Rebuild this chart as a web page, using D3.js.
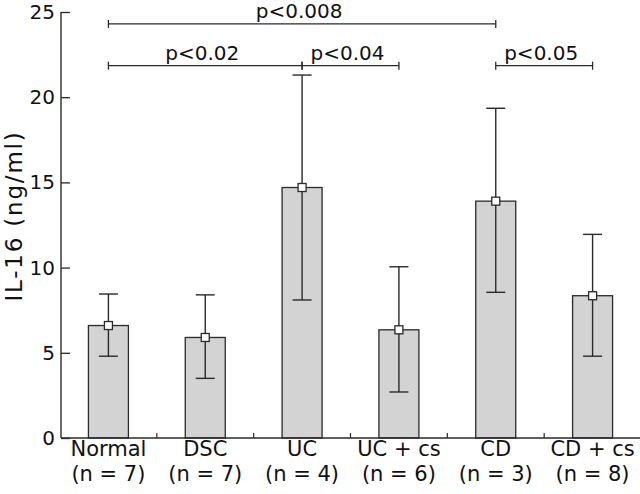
<!DOCTYPE html>
<html>
<head>
<meta charset="utf-8">
<script src="https://cdn.jsdelivr.net/npm/d3@7/dist/d3.min.js"></script>
<style>
  html, body { margin: 0; padding: 0; background: #fff; }
  svg { display: block; font-family: "DejaVu Sans", "Liberation Sans", Arial, sans-serif; }
</style>
</head>
<body>
<svg id="chart" width="640" height="494"></svg>
<script>
// ---- data ----
const categories = ["Normal", "DSC", "UC", "UC + cs", "CD", "CD + cs"];
const groupSizes = ["(n = 7)", "(n = 7)", "(n = 4)", "(n = 6)", "(n = 3)", "(n = 8)"];
const means = [6.6, 5.9, 14.7, 6.35, 13.9, 8.35];
const upper = [8.45, 8.4, 21.3, 10.05, 19.35, 11.95];
const lower = [4.8, 3.5, 8.1, 2.7, 8.55, 4.8];
const yTicks = [0, 5, 10, 15, 20, 25];
const yLabel = "IL-16 (ng/ml)";
const sigFrom = ["Normal", "Normal", "UC", "CD"];
const sigTo = ["CD", "UC", "UC + cs", "CD + cs"];
const sigLevel = [24.3, 21.85, 21.85, 21.85];
const sigLabel = ["p<0.008", "p<0.02", "p<0.04", "p<0.05"];

// ---- layout ----
const svg = d3.select("#chart");
const ink = "#2a2a2a";
const x = d3.scaleBand().domain(categories).range([60, 641])
  .paddingInner(0.587).paddingOuter(0.2935);
const y = d3.scaleLinear().domain([0, 25]).range([438, 12]);
const cx = c => x(c) + x.bandwidth() / 2;
const step = x.step();

const rows = categories.map((c, i) => ({c, n: groupSizes[i], m: means[i], hi: upper[i], lo: lower[i]}));

// bars
svg.append("g").selectAll("rect").data(rows).join("rect")
  .attr("x", d => x(d.c)).attr("width", x.bandwidth())
  .attr("y", d => y(d.m)).attr("height", d => y(0) - y(d.m))
  .attr("fill", "#d3d3d3").attr("stroke", ink).attr("stroke-width", 1.3);

// error bars
const eb = svg.append("g").attr("stroke", ink).attr("stroke-width", 1.4);
eb.selectAll("line.v").data(rows).join("line").attr("class", "v")
  .attr("x1", d => cx(d.c)).attr("x2", d => cx(d.c))
  .attr("y1", d => y(d.hi)).attr("y2", d => y(d.lo));
eb.selectAll("line.h").data(rows).join("line").attr("class", "h")
  .attr("x1", d => cx(d.c) - 9.5).attr("x2", d => cx(d.c) + 9.5)
  .attr("y1", d => y(d.hi)).attr("y2", d => y(d.hi));
eb.selectAll("line.l").data(rows).join("line").attr("class", "l")
  .attr("x1", d => cx(d.c) - 9.5).attr("x2", d => cx(d.c) + 9.5)
  .attr("y1", d => y(d.lo)).attr("y2", d => y(d.lo));

// mean markers
svg.append("g").selectAll("rect").data(rows).join("rect")
  .attr("x", d => cx(d.c) - 4).attr("y", d => y(d.m) - 4)
  .attr("width", 8).attr("height", 8)
  .attr("fill", "#fff").attr("stroke", ink).attr("stroke-width", 1.3);

// y axis
const yAxis = d3.axisRight(y).tickValues(yTicks).tickSize(9).tickFormat(d3.format("d"));
const gy = svg.append("g").attr("transform", "translate(61,0)").call(yAxis);
gy.select(".domain").remove();
gy.selectAll(".tick line").attr("stroke", ink).attr("stroke-width", 1.3);
gy.selectAll(".tick text").attr("x", -6).attr("text-anchor", "end")
  .attr("font-size", 20).attr("fill", "#111").attr("font-family", "DejaVu Sans, sans-serif");
svg.append("line").attr("x1", 61).attr("x2", 61).attr("y1", y(25)).attr("y2", y(0))
  .attr("stroke", ink).attr("stroke-width", 1.4);

// x axis
svg.append("line").attr("x1", 61).attr("x2", 640).attr("y1", y(0)).attr("y2", y(0))
  .attr("stroke", ink).attr("stroke-width", 1.4);
svg.append("g").selectAll("line").data(categories.slice(1)).join("line")
  .attr("x1", d => x(d) - (step - x.bandwidth()) / 2).attr("x2", d => x(d) - (step - x.bandwidth()) / 2)
  .attr("y1", y(0)).attr("y2", y(0) - 5).attr("stroke", ink).attr("stroke-width", 1.2);

const xl = svg.append("g").attr("font-size", 21).attr("fill", "#111").attr("text-anchor", "middle");
xl.selectAll("text.c").data(rows).join("text").attr("class", "c")
  .attr("x", d => cx(d.c)).attr("y", 456).text(d => d.c);
xl.selectAll("text.n").data(rows).join("text").attr("class", "n")
  .attr("x", d => cx(d.c)).attr("y", 481).text(d => d.n);

// y label
svg.append("text").attr("transform", `translate(22,${216}) rotate(-90)`)
  .attr("text-anchor", "middle").attr("font-size", 23).attr("fill", "#111")
  .attr("letter-spacing", 1.8).text(yLabel);

// significance brackets
const sig = sigLabel.map((t, i) => ({t, a: cx(sigFrom[i]), b: cx(sigTo[i]), yy: y(sigLevel[i])}));
const sg = svg.append("g").attr("stroke", ink).attr("stroke-width", 1.3);
sg.selectAll("line.m").data(sig).join("line").attr("class", "m")
  .attr("x1", d => d.a).attr("x2", d => d.b).attr("y1", d => d.yy).attr("y2", d => d.yy);
sg.selectAll("line.a").data(sig).join("line").attr("class", "a")
  .attr("x1", d => d.a).attr("x2", d => d.a).attr("y1", d => d.yy - 4).attr("y2", d => d.yy + 4);
sg.selectAll("line.b").data(sig).join("line").attr("class", "b")
  .attr("x1", d => d.b).attr("x2", d => d.b).attr("y1", d => d.yy - 4).attr("y2", d => d.yy + 4);
svg.append("g").attr("font-size", 20).attr("fill", "#111").attr("text-anchor", "middle")
  .selectAll("text").data(sig).join("text")
  .attr("x", d => (d.a + d.b) / 2 - 3).attr("y", d => d.yy - 5.5).text(d => d.t);
</script>
</body>
</html>
